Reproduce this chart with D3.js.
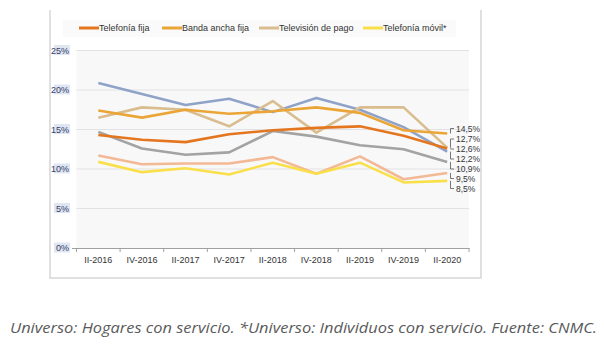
<!DOCTYPE html>
<html><head><meta charset="utf-8">
<script src="https://cdn.jsdelivr.net/npm/d3@7"></script>
<style>body{margin:0;background:#fff}svg{display:block}</style>
</head><body><svg id="c" width="604" height="344"></svg>
<script>
const categories = ["II-2016","IV-2016","II-2017","IV-2017","II-2018","IV-2018","II-2019","IV-2019","II-2020"];
const telefoniaFija   = [14.3,13.7,13.4,14.4,14.9,15.2,15.4,14.2,12.6];
const bandaAncha      = [17.4,16.5,17.5,17.0,17.3,17.8,17.1,14.9,14.5];
const television      = [16.5,17.8,17.5,15.4,18.6,14.6,17.8,17.8,12.7];
const telefoniaMovil  = [10.9,9.6,10.1,9.3,10.8,9.4,10.8,8.3,8.5];
const serieAzul       = [20.9,19.5,18.1,18.9,17.2,19.0,17.5,15.3,12.2];
const serieGris       = [14.7,12.6,11.8,12.1,14.8,14.1,13.0,12.5,10.9];
const serieMelocoton  = [11.7,10.6,10.7,10.7,11.5,9.4,11.6,8.7,9.5];
const yTicks = [0,5,10,15,20,25];
const legendNames = ["Telefonía fija","Banda ancha fija","Televisión de pago","Telefonía móvil*"];
const endLabels = ["14,5%","12,7%","12,6%","12,2%","10,9%","9,5%","8,5%"];
const caption = "Universo: Hogares con servicio. *Universo: Individuos con servicio. Fuente: CNMC.";

const series = [
  {v: serieAzul, c:"#8fa3c9"},
  {v: serieGris, c:"#a3a3a3"},
  {v: serieMelocoton, c:"#f3b995"},
  {v: telefoniaMovil, c:"#f9e04a"},
  {v: television, c:"#d9bd8f"},
  {v: bandaAncha, c:"#eba537"},
  {v: telefoniaFija, c:"#e4761f"}
];
const legendColors = ["#e4761f","#eba537","#d9bd8f","#f9e04a"];

const svg = d3.select("#c");
const x = d3.scaleBand().domain(categories).range([76.5, 469]);
const y = d3.scaleLinear().domain([0,25]).range([248, 50.5]);

// frame
svg.append("path").attr("d","M50,10V278H481V10").attr("fill","none").attr("stroke","#d6d6d6").attr("stroke-width",1.5);

// legend
svg.append("rect").attr("x",63).attr("y",20).attr("width",393).attr("height",17).attr("fill","#fafafa");
const legX = [79,162,259,363];
legendNames.forEach((n,i)=>{
  svg.append("line").attr("x1",legX[i]).attr("x2",legX[i]+20).attr("y1",28).attr("y2",28)
    .attr("stroke",legendColors[i]).attr("stroke-width",3);
  svg.append("text").attr("x",legX[i]+20).attr("y",31).text(n)
    .attr("font-family","Liberation Sans, Arial").attr("font-size",9).attr("fill","#333");
});

// plot bg
svg.append("rect").attr("x",76.5).attr("y",50).attr("width",392.5).attr("height",198).attr("fill","#f8f8f9");

// grid
svg.append("g").selectAll("line").data(yTicks.filter(d=>d>0)).join("line")
  .attr("x1",76.5).attr("x2",469).attr("y1",d=>y(d)).attr("y2",d=>y(d))
  .attr("stroke","#e2e2e6").attr("stroke-width",1);

// y labels
const yl = svg.append("g");
yTicks.forEach(t=>{
  yl.append("rect").attr("x",54).attr("y",y(t)-5.5).attr("width",16).attr("height",10).attr("fill","#dfe5f1");
  yl.append("text").attr("x",69).attr("y",y(t)+3.3).attr("text-anchor","end").text(t+"%")
    .attr("font-family","Liberation Sans, Arial").attr("font-size",9).attr("fill","#33406a");
});

// x axis
const xa = svg.append("g").attr("transform","translate(0,248)")
  .call(d3.axisBottom(x).tickSize(0).tickPadding(9));
xa.select(".domain").attr("stroke","#a0a0a0");
xa.selectAll("text").attr("font-family","Liberation Sans, Arial").attr("font-size",9).attr("fill","#333");
svg.append("path").attr("d","M72,248.5H77").attr("stroke","#a0a0a0");
svg.append("g").selectAll("line").data(categories.concat(["end"])).join("line")
  .attr("x1",(d,i)=>76.5+i*x.bandwidth()).attr("x2",(d,i)=>76.5+i*x.bandwidth())
  .attr("y1",248).attr("y2",252).attr("stroke","#a0a0a0");

// lines
const line = d3.line().x((d,i)=>x(categories[i])+x.bandwidth()/2).y(d=>y(d));
series.forEach(s=>{
  svg.append("path").attr("d",line(s.v)).attr("fill","none").attr("stroke",s.c)
    .attr("stroke-width",2.6).attr("stroke-linejoin","round");
});

// end labels
const endVals = [bandaAncha[8], television[8], telefoniaFija[8], serieAzul[8], serieGris[8], serieMelocoton[8], telefoniaMovil[8]];
const labY = [128.5,139,149,159,169,178.5,188.5];
endVals.forEach((v,i)=>{
  const yd = y(v);
  svg.append("path").attr("d",`M450.5,${yd}V${labY[i]}H454`).attr("fill","none").attr("stroke","#555").attr("stroke-width",0.8);
  svg.append("text").attr("x",456).attr("y",labY[i]+3).text(endLabels[i])
    .attr("font-family","Liberation Sans, Arial").attr("font-size",8.5).attr("fill","#333");
});

// caption
svg.append("text").attr("x",10).attr("y",333).text(caption)
  .attr("font-family","Open Sans").attr("font-style","italic").attr("font-size",14.5)
  .attr("fill","#5a5a5a").attr("textLength",587).attr("lengthAdjust","spacingAndGlyphs");
</script></body></html>
